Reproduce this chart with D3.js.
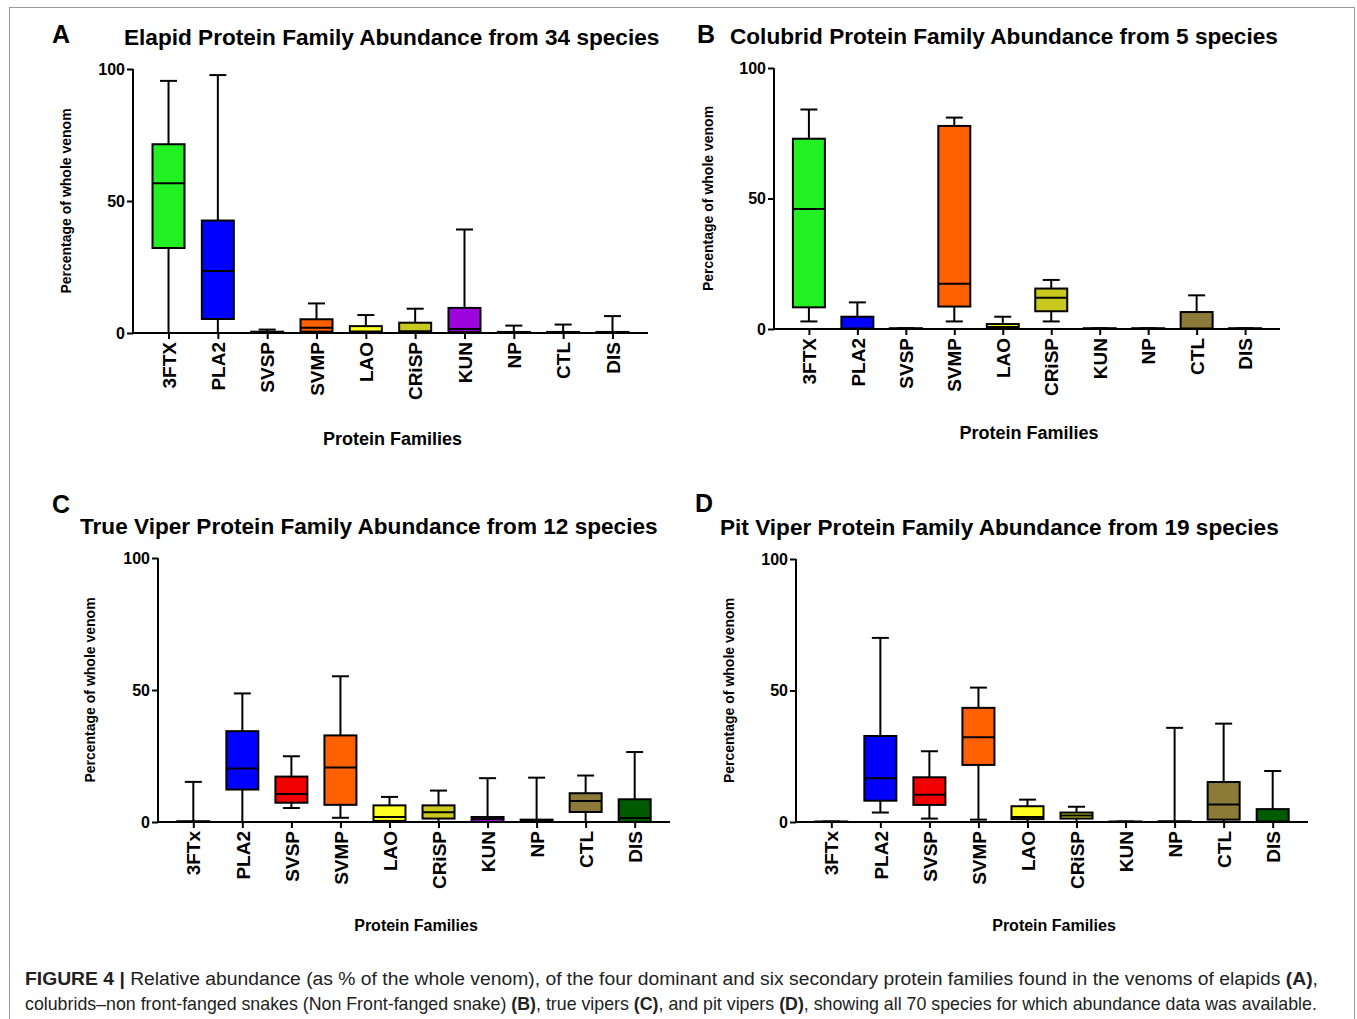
<!DOCTYPE html>
<html>
<head>
<meta charset="utf-8">
<script src="https://cdn.jsdelivr.net/npm/d3@7"></script>
<style>
  body { margin: 0; background: #fff; }
  text { font-family: Arial, "Liberation Sans", sans-serif; fill: #000; }
  .cap text { fill: #222; }
</style>
</head>
<body>
<svg id="fig" width="1357" height="1019"></svg>
<script>
// protein families, same order in all four panels
var familiesA = ["3FTX", "PLA2", "SVSP", "SVMP", "LAO", "CRiSP", "KUN", "NP", "CTL", "DIS"];
var familiesC = ["3FTx", "PLA2", "SVSP", "SVMP", "LAO", "CRiSP", "KUN", "NP", "CTL", "DIS"];
var familyColors = ["#22f022", "#0000ff", "#f20000", "#ff6000", "#ffff22", "#c8c81e", "#9d05de", "#8a8a8a", "#8c7a38", "#005a00"];

// [min, q1, median, q3, max] (% of whole venom)
var elapidStats = [
  [0, 32.2, 56.7, 71.5, 95.5],
  [0, 5.3, 23.5, 42.6, 97.7],
  [0, 0, 0, 0.5, 1.3],
  [0, 0.5, 2.0, 5.2, 11.2],
  [0, 0.3, 0.6, 2.6, 6.8],
  [0, 0.3, 0.7, 3.9, 9.2],
  [0, 0.3, 1.5, 9.5, 39.2],
  [0, 0, 0, 0.4, 2.8],
  [0, 0, 0, 0.4, 3.2],
  [0, 0, 0, 0.4, 6.4]
];
var colubridStats = [
  [2.9, 8.3, 46.0, 72.9, 84.1],
  [0, 0, 0.2, 4.7, 10.2],
  [0, 0, 0, 0.3, 0.3],
  [2.9, 8.6, 17.3, 77.8, 81.0],
  [0, 0, 0.8, 1.9, 4.7],
  [2.9, 6.8, 12.0, 15.5, 18.8],
  [0, 0, 0, 0.3, 0.3],
  [0, 0, 0, 0.3, 0.3],
  [0, 0, 0.2, 6.5, 12.9],
  [0, 0, 0, 0.3, 0.3]
];
var trueViperStats = [
  [0, 0, 0, 0.3, 15.2],
  [0, 12.3, 20.3, 34.4, 48.7],
  [5.3, 7.3, 10.6, 17.2, 24.9],
  [1.6, 6.5, 20.6, 32.8, 55.2],
  [0, 0.4, 1.9, 6.3, 9.5],
  [0, 1.3, 3.7, 6.3, 11.9],
  [0, 0, 1.1, 1.9, 16.6],
  [0, 0, 0.5, 0.9, 16.8],
  [0, 3.8, 8.0, 10.9, 17.6],
  [0, 0, 1.5, 8.6, 26.5]
];
var pitViperStats = [
  [0, 0, 0, 0.2, 0.2],
  [3.6, 8.1, 16.6, 32.7, 70.0],
  [1.3, 6.5, 10.4, 17.0, 26.9],
  [0.9, 21.7, 32.2, 43.4, 51.1],
  [0, 1.1, 1.9, 6.0, 8.5],
  [0, 1.3, 2.5, 3.6, 5.8],
  [0, 0, 0, 0.2, 0.2],
  [0, 0, 0, 0.3, 35.8],
  [0, 0.9, 6.7, 15.2, 37.4],
  [0, 0, 0.2, 4.9, 19.4]
];
var yTicks = [0, 50, 100];

var panels = [
  { letter: "A", title: "Elapid Protein Family Abundance from 34 species", names: familiesA, stats: elapidStats,
    left: 133, right: 648, top: 69, bottom: 333, letterX: 52, letterY: 43, titleX: 124, titleY: 45,
    yLabX: 66, xLabY: 445, xLabSize: 18 },
  { letter: "B", title: "Colubrid Protein Family Abundance from 5 species", names: familiesA, stats: colubridStats,
    left: 774, right: 1280, top: 68, bottom: 329, letterX: 697, letterY: 43, titleX: 730, titleY: 44,
    yLabX: 708, xLabY: 439, xLabSize: 18 },
  { letter: "C", title: "True Viper Protein Family Abundance from 12 species", names: familiesC, stats: trueViperStats,
    left: 158, right: 670, top: 558, bottom: 822, letterX: 52, letterY: 513, titleX: 80, titleY: 534,
    yLabX: 90, xLabY: 931, xLabSize: 16 },
  { letter: "D", title: "Pit Viper Protein Family Abundance from 19 species", names: familiesC, stats: pitViperStats,
    left: 796, right: 1308, top: 559, bottom: 822, letterX: 695, letterY: 512, titleX: 720, titleY: 535,
    yLabX: 729, xLabY: 931, xLabSize: 16 }
];

var svg = d3.select("#fig");

// thin frame round the figure
svg.append("rect")
    .attr("x", 9.5).attr("y", 7.5)
    .attr("width", 1345).attr("height", 1030)
    .attr("fill", "none")
    .attr("stroke", "#999")
    .attr("stroke-width", 1);

panels.forEach(function(p) {
  var g = svg.append("g");

  var x = d3.scalePoint()
      .domain(p.names)
      .range([p.left, p.right])
      .padding(0.72);
  var y = d3.scaleLinear()
      .domain([0, 100])
      .range([p.bottom, p.top]);

  g.append("text")
      .attr("x", p.letterX).attr("y", p.letterY)
      .style("font-size", "25px").style("font-weight", "bold")
      .text(p.letter);

  g.append("text")
      .attr("x", p.titleX).attr("y", p.titleY)
      .style("font-size", "22.6px").style("font-weight", "bold")
      .text(p.title);

  // boxes and whiskers
  var boxW = 32, capW = 17;
  var rows = p.stats.map(function(s, i) {
    return { name: p.names[i], color: familyColors[i], min: s[0], q1: s[1], med: s[2], q3: s[3], max: s[4] };
  });
  var box = g.selectAll(".box").data(rows).enter().append("g").attr("class", "box");

  box.append("line")
      .attr("x1", function(d) { return x(d.name); })
      .attr("x2", function(d) { return x(d.name); })
      .attr("y1", function(d) { return y(d.max); })
      .attr("y2", function(d) { return y(d.min); })
      .attr("stroke", "#000").attr("stroke-width", 2);
  box.append("line")
      .attr("x1", function(d) { return x(d.name) - capW / 2; })
      .attr("x2", function(d) { return x(d.name) + capW / 2; })
      .attr("y1", function(d) { return y(d.max); })
      .attr("y2", function(d) { return y(d.max); })
      .attr("stroke", "#000").attr("stroke-width", 2);
  box.filter(function(d) { return d.min > 0; }).append("line")
      .attr("x1", function(d) { return x(d.name) - capW / 2; })
      .attr("x2", function(d) { return x(d.name) + capW / 2; })
      .attr("y1", function(d) { return y(d.min); })
      .attr("y2", function(d) { return y(d.min); })
      .attr("stroke", "#000").attr("stroke-width", 2);
  box.append("rect")
      .attr("x", function(d) { return x(d.name) - boxW / 2; })
      .attr("y", function(d) { return y(d.q3); })
      .attr("width", boxW)
      .attr("height", function(d) { return Math.max(0.5, y(d.q1) - y(d.q3)); })
      .attr("fill", function(d) { return d.color; })
      .attr("stroke", "#000").attr("stroke-width", 2);
  box.append("line")
      .attr("x1", function(d) { return x(d.name) - boxW / 2; })
      .attr("x2", function(d) { return x(d.name) + boxW / 2; })
      .attr("y1", function(d) { return y(d.med); })
      .attr("y2", function(d) { return y(d.med); })
      .attr("stroke", "#000").attr("stroke-width", 2);

  // y axis with minor ticks every 5
  var yAxis = g.append("g")
      .attr("transform", "translate(" + p.left + ",0)")
      .call(d3.axisLeft(y).tickValues(d3.range(0, 101, 5)).tickSize(3).tickFormat(""));
  yAxis.call(d3.axisLeft(y).tickValues(yTicks).tickSize(6).tickPadding(2));
  yAxis.select(".domain").attr("stroke-width", 2).attr("d", "M0," + p.bottom + "V" + p.top);
  yAxis.selectAll("line").attr("stroke-width", 2);
  yAxis.selectAll("text")
      .style("font-size", "16px").style("font-weight", "bold")
      .style("font-family", "Arial, 'Liberation Sans', sans-serif");

  // x axis
  var xAxis = g.append("g")
      .attr("transform", "translate(0," + p.bottom + ")")
      .call(d3.axisBottom(x).tickSize(6).tickPadding(4));
  xAxis.select(".domain").attr("stroke-width", 2).attr("d", "M" + p.left + ",0H" + p.right);
  xAxis.selectAll("line").attr("stroke-width", 2);
  xAxis.selectAll("text")
      .attr("transform", "rotate(-90)")
      .attr("x", -9).attr("y", 0).attr("dy", "0.35em")
      .style("text-anchor", "end")
      .style("font-size", "19px").style("font-weight", "bold")
      .style("font-family", "Arial, 'Liberation Sans', sans-serif");

  g.append("text")
      .attr("transform", "translate(" + p.yLabX + "," + ((p.top + p.bottom) / 2) + ") rotate(-90)")
      .attr("dy", "0.35em")
      .style("text-anchor", "middle")
      .style("font-size", "14px").style("font-weight", "bold")
      .text("Percentage of whole venom");

  g.append("text")
      .attr("x", (p.left + p.right) / 2 + 2).attr("y", p.xLabY)
      .style("text-anchor", "middle")
      .style("font-size", p.xLabSize + "px").style("font-weight", "bold")
      .text("Protein Families");
});

// caption
var cap = svg.append("g").attr("class", "cap");
var line1 = cap.append("text").attr("x", 25).attr("y", 985)
    .attr("textLength", 1293).attr("lengthAdjust", "spacingAndGlyphs")
    .style("font-size", "18px");
line1.append("tspan").style("font-weight", "bold").text("FIGURE 4 | ");
line1.append("tspan").text("Relative abundance (as % of the whole venom), of the four dominant and six secondary protein families found in the venoms of elapids ");
line1.append("tspan").style("font-weight", "bold").text("(A)");
line1.append("tspan").text(",");

var line2 = cap.append("text").attr("x", 25).attr("y", 1010)
    .style("font-size", "17.8px");
line2.append("tspan").text("colubrids\u2013non front-fanged snakes (Non Front-fanged snake) ");
line2.append("tspan").style("font-weight", "bold").text("(B)");
line2.append("tspan").text(", true vipers ");
line2.append("tspan").style("font-weight", "bold").text("(C)");
line2.append("tspan").text(", and pit vipers ");
line2.append("tspan").style("font-weight", "bold").text("(D)");
line2.append("tspan").text(", showing all 70 species for which abundance data was available.");
</script>
</body>
</html>
